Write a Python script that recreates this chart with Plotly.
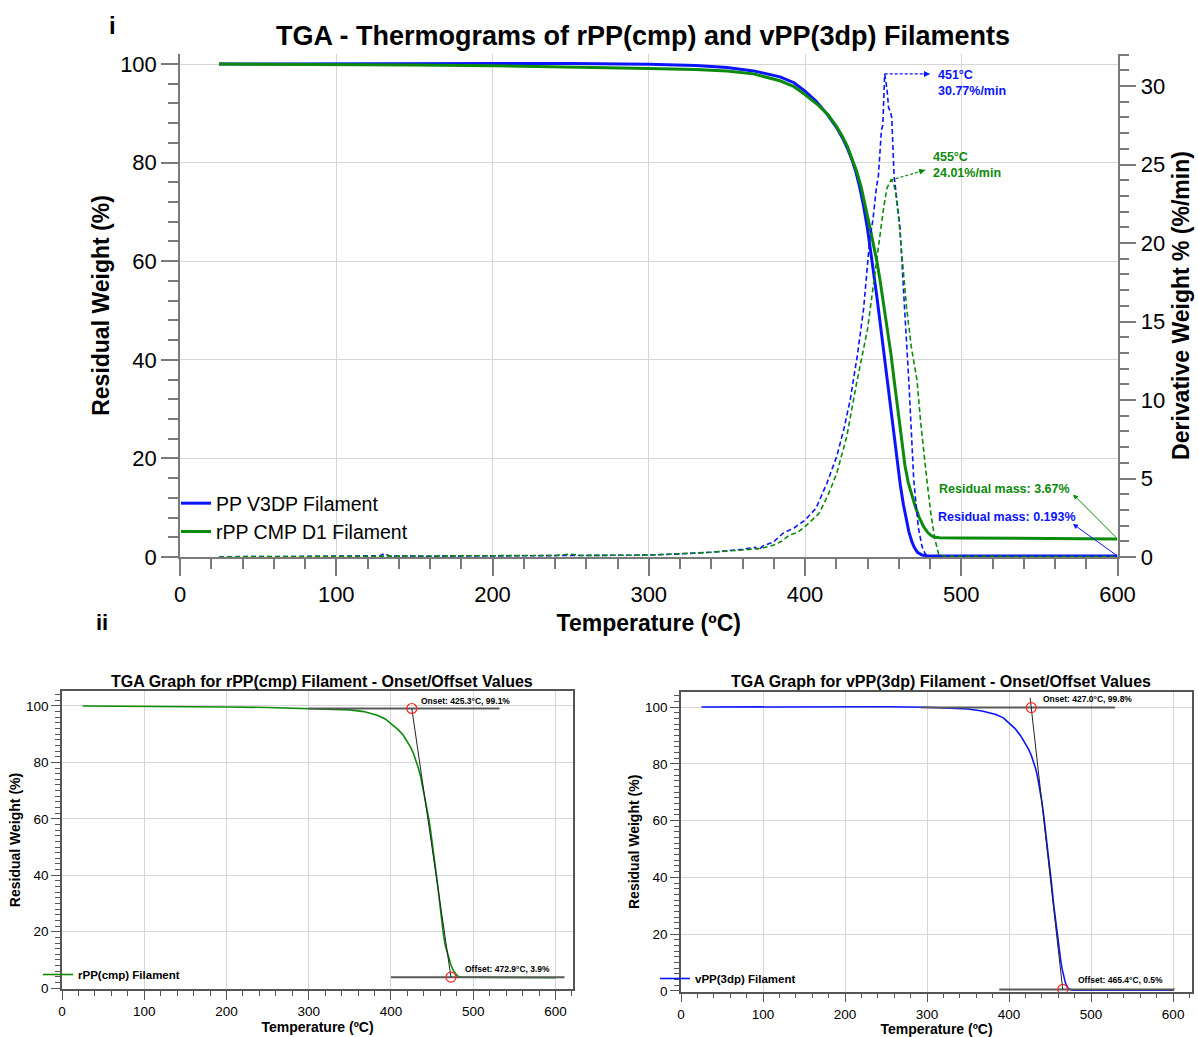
import plotly.graph_objects as go

# ---------------- PP V3DP filament (blue) ----------------
# TG curve: temperature (degC) / residual weight (%)
t_v3dp = [25, 60, 100, 120, 150, 200, 250, 300, 330, 350, 367, 384, 393, 400, 407, 414, 420,
          424, 427, 430, 432.4, 435, 437.5, 440, 442.2, 444, 445.7, 447.5, 449.3, 451.6, 454.5,
          457.8, 461, 463, 464.9, 466.5, 468.5, 470, 472, 474.9, 478, 490, 550, 600]
w_v3dp = [100.0, 100.02, 100.1, 100.18, 100.2, 100.18, 100.12, 99.95, 99.7, 99.3, 98.6, 97.4,
          96.2, 94.5, 92.5, 89.9, 87.2, 85.0, 83.0, 80.6, 78.3, 75.0, 71.2, 66.6, 61.8, 57.6,
          53.5, 49.0, 44.4, 38.2, 30.0, 21.8, 14.6, 10.6, 7.4, 5.1, 3.0, 1.9, 0.95, 0.4, 0.25,
          0.2, 0.195, 0.193]
# DTG curve: temperature (degC) / derivative weight (%/min)
td_v3dp = [25, 40, 60, 90, 120, 128, 131, 134, 160, 200, 240, 260, 282, 300, 320, 340, 360,
           368, 370.5, 373, 380, 385.8, 393, 400, 407, 414, 420.3, 425, 428.9, 433.6, 437.5,
           441.4, 443.5, 445.7, 447, 448.9, 449.8, 451, 452.5, 453.5, 454.6, 455.5, 457, 459,
           460.8, 463.5, 466.4, 469.6, 472.5, 474.9, 477, 479, 500, 550, 600]
d_v3dp = [0.0, 0.03, 0.02, 0.04, 0.05, 0.08, 0.22, 0.06, 0.05, 0.06, 0.08, 0.1, 0.08, 0.12,
          0.2, 0.3, 0.49, 0.62, 0.45, 0.7, 0.97, 1.5, 1.85, 2.35, 3.1, 4.7, 6.4, 8.2, 10.0,
          12.9, 15.8, 20.2, 21.5, 23.55, 24.3, 27.2, 27.5, 30.77, 29.8, 28.6, 28.4, 28.0,
          24.3, 22.7, 21.0, 16.2, 11.3, 4.9, 1.9, 0.66, 0.2, 0.05, 0.03, 0.02, 0.02]

# ---------------- rPP CMP D1 filament (green) ----------------
t_cmp = [25, 60, 100, 150, 200, 250, 300, 330, 350, 367, 384, 393, 400, 409, 415, 420, 424,
         427, 430, 433, 436, 439, 442, 444, 446, 448, 450, 452, 453.7, 455, 456.8, 459.5,
         462.1, 464, 466, 468.5, 470.6, 473, 476, 478.5, 480.5, 482.5, 486, 500, 550, 600]
w_cmp = [100.0, 99.98, 99.9, 99.8, 99.65, 99.45, 99.1, 98.9, 98.6, 98.0, 96.6, 95.4, 93.8,
         91.5, 89.6, 87.4, 85.3, 83.4, 81.0, 78.3, 75.0, 70.8, 66.2, 63.0, 60.0, 56.2, 52.0,
         47.8, 44.0, 41.2, 36.5, 29.5, 22.6, 18.5, 15.2, 12.3, 10.2, 8.1, 6.1, 5.0, 4.4, 4.05,
         3.92, 3.86, 3.76, 3.67]
td_cmp = [25, 50, 100, 150, 200, 240, 250, 256, 300, 320, 340, 360, 372, 380, 385, 390, 395,
          400, 409, 415, 420.3, 426.7, 433, 440, 443, 446, 448, 450.4, 452.5, 455, 456.5, 458,
          460, 462, 465, 468, 471.7, 474, 476, 478, 480.5, 483, 485.6, 490, 550, 600]
d_cmp = [0.0, 0.03, 0.04, 0.05, 0.07, 0.1, 0.18, 0.1, 0.12, 0.2, 0.3, 0.45, 0.55, 0.76, 1.0,
         1.4, 1.55, 1.93, 2.78, 4.0, 5.33, 7.66, 11.06, 14.5, 16.8, 18.9, 20.6, 22.3, 23.5,
         24.01, 23.9, 23.2, 21.5, 19.3, 15.9, 13.4, 11.26, 8.6, 6.6, 4.9, 2.8, 1.2, 0.15,
         0.05, 0.03, 0.03]

# DTG peaks (temperature, %/min) and residual masses (%)
peak_v3dp = [451, 30.77]
peak_cmp = [455, 24.01]
residual_v3dp = 0.193
residual_cmp = 3.67

# Onset / offset points (temperature, weight %)
onset_cmp = [425.3, 99.1]
offset_cmp = [472.9, 3.9]
onset_v3dp = [427.0, 99.8]
offset_v3dp = [465.4, 0.5]
# temperature spans of the onset / offset baselines
onset_base_cmp = [300, 532]
offset_base_cmp = [400, 611]
onset_base_v3dp = [293, 529]
offset_base_v3dp = [388, 602]

BLUE = "#0a14ff"
GREEN = "#0c8a0c"
AXIS = "#7a7a7a"
GRID = "#d6d6d6"
FRAME = "#555555"
FONT = "Liberation Sans, Arial, Helvetica, sans-serif"

fig = go.Figure()

# ---------- panel i : TG + DTG ----------
fig.add_trace(go.Scatter(x=td_v3dp, y=d_v3dp, yaxis="y2", mode="lines", showlegend=False,
                         line=dict(color=BLUE, width=1.6, dash="5px,3px")))
fig.add_trace(go.Scatter(x=td_cmp, y=d_cmp, yaxis="y2", mode="lines", showlegend=False,
                         line=dict(color=GREEN, width=1.6, dash="5px,3px")))
fig.add_trace(go.Scatter(x=t_v3dp, y=w_v3dp, mode="lines", name="PP V3DP Filament",
                         line=dict(color=BLUE, width=3), legend="legend"))
fig.add_trace(go.Scatter(x=t_cmp, y=w_cmp, mode="lines", name="rPP CMP D1 Filament",
                         line=dict(color=GREEN, width=3), legend="legend"))

# dashed leaders from each DTG peak to its label
lead_end_v3dp = [480, peak_v3dp[1]]
lead_end_cmp = [477, 24.65]
for pk, end, col in [(peak_v3dp, lead_end_v3dp, BLUE), (peak_cmp, lead_end_cmp, GREEN)]:
    fig.add_trace(go.Scatter(x=[pk[0], end[0]], y=[pk[1], end[1]], yaxis="y2", mode="lines",
                             showlegend=False,
                             line=dict(color=col, width=1.2, dash="3px,2px")))

# ---------- panel ii (left): rPP(cmp) ----------
fig.add_trace(go.Scatter(x=t_cmp, y=w_cmp, xaxis="x2", yaxis="y3", mode="lines",
                         name="<b>rPP(cmp) Filament</b>", legend="legend2",
                         line=dict(color=GREEN, width=1.6)))
# ---------- panel ii (right): vPP(3dp) ----------
fig.add_trace(go.Scatter(x=t_v3dp, y=w_v3dp, xaxis="x3", yaxis="y4", mode="lines",
                         name="<b>vPP(3dp) Filament</b>", legend="legend3",
                         line=dict(color=BLUE, width=1.6)))

def onset_offset(xa, ya, onset, offset, on_base, off_base, top_ext):
    # baselines
    for base, lvl in [(on_base, onset[1]), (off_base, offset[1])]:
        fig.add_trace(go.Scatter(x=base, y=[lvl, lvl], xaxis=xa, yaxis=ya, mode="lines",
                                 showlegend=False, line=dict(color="#5a5a5a", width=2)))
    # tangent through onset and offset
    slope = (offset[1] - onset[1]) / (offset[0] - onset[0])
    y0 = onset[1] + top_ext
    x0 = onset[0] + top_ext / slope
    fig.add_trace(go.Scatter(x=[x0, offset[0]], y=[y0, offset[1]], xaxis=xa, yaxis=ya,
                             mode="lines", showlegend=False,
                             line=dict(color="#222222", width=1)))
    # onset / offset markers
    fig.add_trace(go.Scatter(x=[onset[0], offset[0]], y=[onset[1], offset[1]], xaxis=xa,
                             yaxis=ya, mode="markers", showlegend=False,
                             marker=dict(symbol="circle-open", size=10, color="#ff2020",
                                         line=dict(width=1.2))))

onset_offset("x2", "y3", onset_cmp, offset_cmp, onset_base_cmp, offset_base_cmp, 0)
onset_offset("x3", "y4", onset_v3dp, offset_v3dp, onset_base_v3dp, offset_base_v3dp, 3.5)

tick_font = dict(family=FONT, size=22, color="black")
title_font = dict(family=FONT, size=23, color="black", weight="bold")
small_tick = dict(family=FONT, size=13.5, color="black")
small_title = dict(family=FONT, size=14, color="black", weight="bold")

def top_axis(**kw):
    d = dict(showline=True, linecolor=AXIS, linewidth=1.5, ticks="outside", ticklen=17,
             tickwidth=1.5, tickcolor=AXIS, tickfont=tick_font, zeroline=False,
             gridcolor=GRID, gridwidth=1, automargin=False)
    d.update(kw)
    return d

def small_axis(**kw):
    d = dict(showline=True, mirror=True, linecolor=FRAME, linewidth=1.5, ticks="outside",
             ticklen=9, tickwidth=1, tickcolor=FRAME, tickfont=small_tick, zeroline=False,
             gridcolor=GRID, gridwidth=1, showgrid=True, automargin=False)
    d.update(kw)
    return d

fig.update_layout(
    width=1198, height=1037, autosize=False,
    margin=dict(l=0, r=0, t=0, b=0, autoexpand=False),
    paper_bgcolor="white", plot_bgcolor="white",
    font=dict(family=FONT, color="black"),
    title=dict(text="<b>TGA - Thermograms of rPP(cmp) and vPP(3dp) Filaments</b>",
               x=643 / 1198, y=1 - 36 / 1037, xanchor="center", yanchor="middle",
               font=dict(family=FONT, size=27, color="black")),
    xaxis=top_axis(domain=[180 / 1198, 1117.5 / 1198], range=[0, 600], dtick=100,
                   anchor="y", showgrid=True,
                   minor=dict(dtick=20, ticks="outside", ticklen=10, tickwidth=1.5,
                              tickcolor=AXIS, showgrid=False),
                   title=dict(text="Temperature (ºC)", font=title_font, standoff=9)),
    yaxis=top_axis(domain=[1 - 557 / 1037, 1 - 54 / 1037], range=[0, 102.03], dtick=20,
                   anchor="x", showgrid=True,
                   minor=dict(dtick=4, ticks="outside", ticklen=10, tickwidth=1.5,
                              tickcolor=AXIS, showgrid=False),
                   title=dict(text="Residual Weight (%)", font=title_font, standoff=4)),
    yaxis2=top_axis(overlaying="y", side="right", anchor="x", range=[0, 32.04], dtick=5,
                    showgrid=False,
                    minor=dict(dtick=1, ticks="outside", ticklen=10, tickwidth=1.5,
                               tickcolor=AXIS, showgrid=False),
                    title=dict(text="Derivative Weight % (%/min)", font=title_font,
                               standoff=9)),
    xaxis2=small_axis(domain=[62 / 1198, 573 / 1198], anchor="y3", range=[0, 621.3],
                      dtick=100,
                      minor=dict(dtick=20, ticks="outside", ticklen=5, tickcolor=FRAME,
                                 showgrid=False),
                      title=dict(text="Temperature (ºC)", font=small_title, standoff=1)),
    yaxis3=small_axis(domain=[1 - 989 / 1037, 1 - 691 / 1037], anchor="x2",
                      range=[-0.3, 105.3], dtick=20,
                      minor=dict(dtick=2, ticks="outside", ticklen=5, tickcolor=FRAME,
                                 showgrid=False),
                      title=dict(text="Residual Weight (%)", font=small_title, standoff=2)),
    xaxis3=small_axis(domain=[681 / 1198, 1192 / 1198], anchor="y4", range=[0, 623],
                      dtick=100,
                      minor=dict(dtick=20, ticks="outside", ticklen=5, tickcolor=FRAME,
                                 showgrid=False),
                      title=dict(text="Temperature (ºC)", font=small_title, standoff=1)),
    yaxis4=small_axis(domain=[1 - 991.7 / 1037, 1 - 692 / 1037], anchor="x3",
                      range=[-0.3, 105.3], dtick=20,
                      minor=dict(dtick=2, ticks="outside", ticklen=5, tickcolor=FRAME,
                                 showgrid=False),
                      title=dict(text="Residual Weight (%)", font=small_title, standoff=2)),
    legend=dict(x=176 / 1198, y=1 - 484 / 1037, xanchor="left", yanchor="top",
                bgcolor="rgba(0,0,0,0)", font=dict(family=FONT, size=19.5, color="black"),
                tracegroupgap=0, itemwidth=30),
    legend2=dict(x=38 / 1198, y=1 - 960 / 1037, xanchor="left", yanchor="top",
                 bgcolor="rgba(0,0,0,0)", font=dict(family=FONT, size=11.5, color="black"),
                 itemwidth=30),
    legend3=dict(x=655 / 1198, y=1 - 964 / 1037, xanchor="left", yanchor="top",
                 bgcolor="rgba(0,0,0,0)", font=dict(family=FONT, size=11.5, color="black"),
                 itemwidth=30),
)

ann = []
# panel labels
ann.append(dict(text="<b>i</b>", x=112 / 1198, y=1 - 25 / 1037, xref="paper", yref="paper",
                xanchor="center", yanchor="middle", showarrow=False,
                font=dict(size=24, color="black")))
ann.append(dict(text="<b>ii</b>", x=102 / 1198, y=1 - 622 / 1037, xref="paper",
                yref="paper", xanchor="center", yanchor="middle", showarrow=False,
                font=dict(size=22, color="black")))

# DTG peak labels with arrowheads at the end of the dashed leaders
ann.append(dict(text=f"<b>{peak_v3dp[0]}°C<br>{peak_v3dp[1]}%/min</b>", x=484, y=30.2,
                xref="x", yref="y2", xanchor="left", yanchor="middle", align="left",
                showarrow=False, font=dict(size=12.5, color=BLUE)))
ann.append(dict(text="", x=lead_end_v3dp[0], y=lead_end_v3dp[1], xref="x", yref="y2",
                ax=-8, ay=0, showarrow=True, arrowhead=2, arrowsize=1, arrowwidth=1.2,
                arrowcolor=BLUE))
ann.append(dict(text=f"<b>{peak_cmp[0]}°C<br>{peak_cmp[1]:.2f}%/min</b>", x=480.5, y=25.0,
                xref="x", yref="y2", xanchor="left", yanchor="middle", align="left",
                showarrow=False, font=dict(size=12.5, color=GREEN)))
ann.append(dict(text="", x=lead_end_cmp[0], y=lead_end_cmp[1], xref="x", yref="y2",
                ax=-8, ay=2.4, showarrow=True, arrowhead=2, arrowsize=1, arrowwidth=1.2,
                arrowcolor=GREEN))

# residual mass labels with arrows from the 600 degC end points
ann.append(dict(text=f"<b>Residual mass: {residual_cmp}%</b>", x=484.7, y=13.8, xref="x",
                yref="y", xanchor="left", yanchor="middle", showarrow=False,
                font=dict(size=12.5, color=GREEN)))
ann.append(dict(text="", x=571.6, y=12.7, xref="x", yref="y", ax=600, ay=residual_cmp,
                axref="x", ayref="y", showarrow=True, arrowhead=2, arrowsize=1,
                arrowwidth=1, arrowcolor=GREEN))
ann.append(dict(text=f"<b>Residual mass: {residual_v3dp}%</b>", x=483.7, y=8.2, xref="x",
                yref="y", xanchor="left", yanchor="middle", showarrow=False,
                font=dict(size=12.5, color=BLUE)))
ann.append(dict(text="", x=571.5, y=6.7, xref="x", yref="y", ax=600, ay=residual_v3dp,
                axref="x", ayref="y", showarrow=True, arrowhead=2, arrowsize=1,
                arrowwidth=1, arrowcolor=BLUE))

# panel ii titles
ann.append(dict(text="<b>TGA Graph for rPP(cmp) Filament - Onset/Offset Values</b>",
                x=322 / 1198, y=1 - 681 / 1037, xref="paper", yref="paper", showarrow=False,
                xanchor="center", yanchor="middle", font=dict(size=16, color="black")))
ann.append(dict(text="<b>TGA Graph for vPP(3dp) Filament - Onset/Offset Values</b>",
                x=941 / 1198, y=1 - 681 / 1037, xref="paper", yref="paper", showarrow=False,
                xanchor="center", yanchor="middle", font=dict(size=16, color="black")))

# onset / offset value labels
def oo_label(xr, yr, pt, x, y, kind):
    ann.append(dict(text=f"<b>{kind}: {pt[0]:.1f}°C, {pt[1]:.1f}%</b>", x=x, y=y, xref=xr,
                    yref=yr, xanchor="left", yanchor="middle", showarrow=False,
                    font=dict(size=8.5, color="black")))

oo_label("x2", "y3", onset_cmp, 434.2, 101.7, "Onset")
oo_label("x2", "y3", offset_cmp, 487.2, 6.9, "Offset")
oo_label("x3", "y4", onset_v3dp, 438.4, 102.8, "Onset")
oo_label("x3", "y4", offset_v3dp, 481.3, 3.9, "Offset")

fig.update_layout(annotations=ann)
fig.write_html("out.html")
